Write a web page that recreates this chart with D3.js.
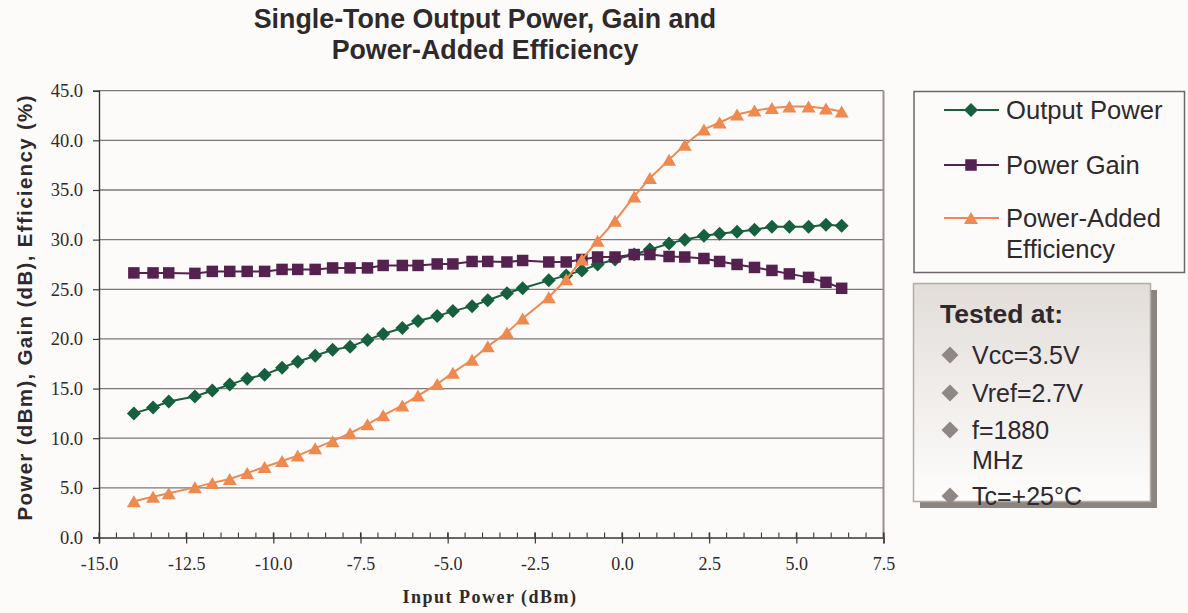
<!DOCTYPE html>
<html>
<head>
<meta charset="utf-8">
<script src="https://cdn.jsdelivr.net/npm/d3@7"></script>
<style>
  html, body { margin: 0; padding: 0; background: #fdfbfa; }
  svg { display: block; }
</style>
</head>
<body>
<svg id="chart" width="1188" height="613"></svg>
<script>
// Input power sweep (dBm)
const inputPower = [-14.0, -13.45, -13.0, -12.25, -11.75, -11.25, -10.75, -10.25, -9.75, -9.3,
  -8.8, -8.3, -7.8, -7.3, -6.85, -6.3, -5.85, -5.3, -4.85, -4.3,
  -3.85, -3.3, -2.85, -2.1, -1.6, -1.15, -0.7, -0.2, 0.35, 0.8,
  1.35, 1.8, 2.35, 2.8, 3.3, 3.8, 4.3, 4.8, 5.35, 5.85, 6.3];

// Output power (dBm)
const outputPower = [12.5, 13.1, 13.7, 14.2, 14.8, 15.4, 16.0, 16.4, 17.1, 17.7,
  18.3, 18.9, 19.2, 19.9, 20.5, 21.1, 21.8, 22.3, 22.8, 23.3,
  23.9, 24.6, 25.1, 25.9, 26.4, 26.9, 27.5, 28.0, 28.5, 29.0,
  29.6, 30.0, 30.4, 30.6, 30.8, 31.0, 31.3, 31.3, 31.3, 31.5, 31.4];

// Power gain (dB)
const powerGain = [26.65, 26.65, 26.65, 26.6, 26.8, 26.8, 26.8, 26.8, 27.0, 27.0,
  27.0, 27.15, 27.15, 27.15, 27.4, 27.4, 27.4, 27.55, 27.55, 27.8,
  27.8, 27.75, 27.9, 27.75, 27.75, 28.0, 28.25, 28.25, 28.5, 28.5,
  28.3, 28.25, 28.1, 27.8, 27.5, 27.2, 26.9, 26.55, 26.2, 25.7, 25.1];

// Power-added efficiency (%)
const efficiency = [3.65, 4.1, 4.45, 5.05, 5.5, 5.9, 6.5, 7.1, 7.7, 8.25,
  9.0, 9.7, 10.5, 11.4, 12.3, 13.3, 14.3, 15.45, 16.6, 17.9,
  19.25, 20.65, 22.05, 24.2, 26.0, 28.0, 29.9, 31.9, 34.35, 36.2,
  38.05, 39.55, 41.1, 41.8, 42.6, 43.0, 43.25, 43.4, 43.4, 43.2, 42.9];

const xTicks = [-15.0, -12.5, -10.0, -7.5, -5.0, -2.5, 0.0, 2.5, 5.0, 7.5];
const yTicks = [0, 5, 10, 15, 20, 25, 30, 35, 40, 45];

const seriesNames = ["Output Power", "Power Gain", "Power-Added", "Efficiency"];
const testConditions = ["Vcc=3.5V", "Vref=2.7V", "f=1880", "MHz", "Tc=+25°C"];

const svg = d3.select("#chart");
const W = 1188, H = 613;
const plot = { left: 99, right: 883.5, top: 90.7, bottom: 537.5 };

const x = d3.scaleLinear().domain([-15, 7.5]).range([plot.left, plot.right]);
const y = d3.scaleLinear().domain([0, 45]).range([plot.bottom, plot.top]);

const sans = "'Liberation Sans', Arial, sans-serif";
const serif = "'Liberation Serif', 'Times New Roman', serif";
const ink = "#2e292d";
// One decimal, plain hyphen for negatives
const fmt = d => d.toFixed(1);

svg.append("rect").attr("width", W).attr("height", H).attr("fill", "#fdfbfa");

// Title
const title = svg.append("text")
  .attr("x", 485).attr("text-anchor", "middle")
  .attr("font-family", sans).attr("font-weight", "bold").attr("font-size", 26.8)
  .attr("fill", ink);
title.append("tspan").attr("x", 485).attr("y", 28).text("Single-Tone Output Power, Gain and");
title.append("tspan").attr("x", 485).attr("y", 58.5).text("Power-Added Efficiency");

// Horizontal gridlines
svg.append("g").selectAll("line").data(yTicks.slice(1)).join("line")
  .attr("x1", plot.left).attr("x2", plot.right)
  .attr("y1", d => y(d)).attr("y2", d => y(d))
  .attr("stroke", "#7e767b").attr("stroke-width", 1.3);

// Right border of the plot area
svg.append("line")
  .attr("x1", plot.right).attr("x2", plot.right)
  .attr("y1", plot.top).attr("y2", plot.bottom)
  .attr("stroke", "#9a928f").attr("stroke-width", 2);

// Y axis
const yAxis = d3.axisLeft(y).tickValues(yTicks).tickSize(6).tickPadding(10).tickFormat(fmt);
const gy = svg.append("g").attr("transform", `translate(${plot.left},0)`).call(yAxis);
gy.select(".domain").attr("stroke", "#3b3338").attr("stroke-width", 1.4);
gy.selectAll(".tick line").attr("stroke", "#3b3338").attr("stroke-width", 1.2);
gy.selectAll(".tick text").attr("font-family", serif).attr("font-size", 18.5).attr("fill", ink);

// X axis: minor ticks every 0.5, major ticks crossing the axis
const minorX = d3.range(-15, 7.5001, 0.5);
svg.append("g").selectAll("line").data(minorX).join("line")
  .attr("x1", d => x(d)).attr("x2", d => x(d))
  .attr("y1", plot.bottom - 5).attr("y2", plot.bottom)
  .attr("stroke", "#3b3338").attr("stroke-width", 1.1);
const xAxis = d3.axisBottom(x).tickValues(xTicks).tickSize(6).tickPadding(14).tickFormat(fmt);
const gx = svg.append("g").attr("transform", `translate(0,${plot.bottom})`).call(xAxis);
gx.select(".domain").attr("stroke", "#3b3338").attr("stroke-width", 1.4);
gx.selectAll(".tick line").attr("stroke", "#3b3338").attr("stroke-width", 1.2).attr("y1", -5);
gx.selectAll(".tick text").attr("font-family", serif).attr("font-size", 18).attr("fill", ink);

// Axis titles
svg.append("text")
  .attr("x", 490).attr("y", 603).attr("text-anchor", "middle")
  .attr("font-family", serif).attr("font-weight", "bold").attr("font-size", 18)
  .attr("letter-spacing", 1.5).attr("fill", ink)
  .text("Input Power (dBm)");

svg.append("text")
  .attr("transform", "translate(32,308) rotate(-90)")
  .attr("text-anchor", "middle")
  .attr("font-family", sans).attr("font-weight", "bold").attr("font-size", 20.5)
  .attr("textLength", 425).attr("lengthAdjust", "spacing")
  .attr("fill", ink)
  .text("Power (dBm), Gain (dB), Efficiency (%)");

// Marker shapes
const diamondPath = r => `M0,${-r}L${r},0L0,${r}L${-r},0Z`;
const squarePath = s => `M${-s/2},${-s/2}h${s}v${s}h${-s}Z`;
const trianglePath = (w, h) => `M0,${-h/2}L${w/2},${h/2}L${-w/2},${h/2}Z`;

const series = [
  { name: "Output Power", values: outputPower, color: "#17603f", width: 2, marker: diamondPath(7) },
  { name: "Power Gain", values: powerGain, color: "#55214f", width: 2, marker: squarePath(11.5) },
  { name: "Power-Added Efficiency", values: efficiency, color: "#ee8a50", width: 2, marker: trianglePath(14, 12) }
];

const line = d3.line().x(d => x(d[0])).y(d => y(d[1]));

series.forEach(s => {
  const pts = inputPower.map((p, i) => [p, s.values[i]]);
  const g = svg.append("g");
  g.append("path").datum(pts).attr("d", line)
    .attr("fill", "none").attr("stroke", s.color).attr("stroke-width", s.width);
  g.selectAll("path.m").data(pts).join("path").attr("class", "m")
    .attr("transform", d => `translate(${x(d[0])},${y(d[1])})`)
    .attr("d", s.marker).attr("fill", s.color);
});

// Legend
const leg = svg.append("g");
leg.append("rect").attr("x", 914).attr("y", 91.5).attr("width", 270.5).attr("height", 181)
  .attr("fill", "#fdfbfa").attr("stroke", "#6e6769").attr("stroke-width", 1.5);
const legRows = [
  { s: series[0], y: 110, labels: [seriesNames[0]] },
  { s: series[1], y: 165, labels: [seriesNames[1]] },
  { s: series[2], y: 218, labels: [seriesNames[2], seriesNames[3]] }
];
legRows.forEach(r => {
  leg.append("line").attr("x1", 944).attr("x2", 999).attr("y1", r.y).attr("y2", r.y)
    .attr("stroke", r.s.color).attr("stroke-width", 1.8);
  leg.append("path").attr("transform", `translate(971,${r.y})`).attr("d", r.s.marker).attr("fill", r.s.color);
  r.labels.forEach((t, i) => {
    leg.append("text").attr("x", 1006).attr("y", r.y + 9 + i * 31)
      .attr("font-family", sans).attr("font-size", 25.6).attr("fill", ink).text(t);
  });
});

// Test conditions box with drop shadow and vertical gradient
const defs = svg.append("defs");
const grad = defs.append("linearGradient").attr("id", "boxFill")
  .attr("x1", 0).attr("y1", 0).attr("x2", 0).attr("y2", 1);
grad.append("stop").attr("offset", "0%").attr("stop-color", "#e2ddd9");
grad.append("stop").attr("offset", "100%").attr("stop-color", "#fefdfc");

const tb = svg.append("g");
tb.append("rect").attr("x", 920).attr("y", 290).attr("width", 237).attr("height", 218).attr("fill", "#8c847f");
tb.append("rect").attr("x", 913.5).attr("y", 283.5).attr("width", 237).attr("height", 218)
  .attr("fill", "url(#boxFill)").attr("stroke", "#b3aca6").attr("stroke-width", 1.5);
tb.append("text").attr("x", 940).attr("y", 323)
  .attr("font-family", sans).attr("font-weight", "bold").attr("font-size", 26.5).attr("fill", ink)
  .text("Tested at:");
const condY = [364, 402, 439, 469, 505];
testConditions.forEach((t, i) => {
  if (t !== "MHz") {
    tb.append("path").attr("transform", `translate(950,${condY[i] - 9})`)
      .attr("d", diamondPath(8.5)).attr("fill", "#8f8784");
  }
  tb.append("text").attr("x", 972).attr("y", condY[i])
    .attr("font-family", sans).attr("font-size", 25).attr("fill", ink).text(t);
});
</script>
</body>
</html>
